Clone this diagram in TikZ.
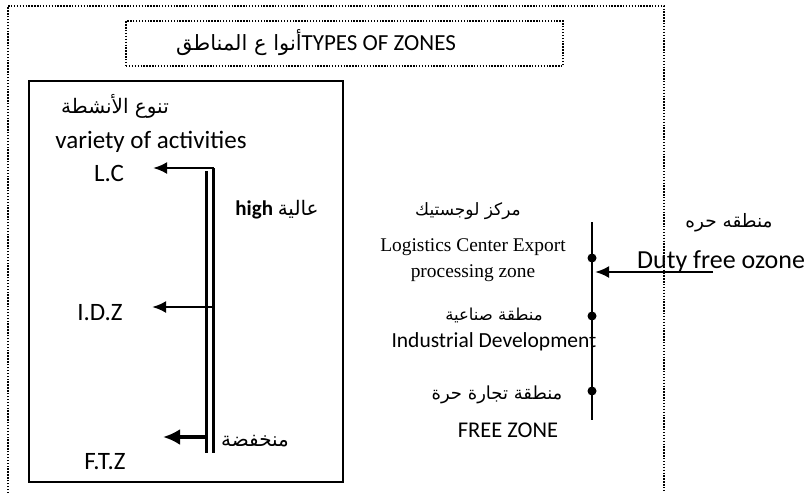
\documentclass[tikz,border=0pt]{standalone}
\usepackage{fontspec}
\setmainfont{Carlito}
\newfontfamily\arabicfont[Script=Arabic]{DejaVu Sans}
\newfontfamily\timesfont{Liberation Serif}
\TeXXeTstate=1
\usetikzlibrary{arrows.meta}
\tikzset{
  lbl/.style={inner sep=0pt, anchor=center},
  artxt/.style={lbl, font=\arabicfont\fontsize{20}{24}\selectfont},
  arsmall/.style={lbl, font=\arabicfont\fontsize{17}{20}\selectfont},
  entxt/.style={lbl, font=\fontsize{25}{28}\selectfont},
  ensmall/.style={lbl, font=\fontsize{21.5}{25}\selectfont},
  tmtxt/.style={lbl, font=\timesfont\fontsize{19.4}{23}\selectfont},
  dotline/.style={line width=1.8pt, dash pattern=on 1.4pt off 1.5pt},
  boxline/.style={line width=2.8pt},
  arr/.style={line width=2.6pt, -{Latex[length=14pt,width=12pt]}},
  thickarr/.style={line width=4pt, -{Latex[length=17pt,width=16pt]}},
  dbl/.style={line width=2.4pt},
  dot/.style={circle, fill=black, inner sep=0pt, minimum size=9pt},
}
\begin{document}
\begin{tikzpicture}[x=1pt,y=-1pt]
\useasboundingbox (0,0) rectangle (812,493);
% outer frame
\coordinate (ofbl) at (8,493);
\coordinate (oftl) at (8,6);
\coordinate (oftr) at (664,6);
\coordinate (ofbr) at (664,493);
\draw[dotline] (ofbl) -- (oftl) -- (oftr) -- (ofbr);
% title
\node[dotline, draw, minimum width=437pt, minimum height=45pt, anchor=center] (titlebox) at (344.5,43.5) {};
\node[lbl] (title) at (316,43) {\arabicfont\fontsize{21}{24}\selectfont\beginR أنوا ع المناطق\endR\fontsize{23}{26}\selectfont\rmfamily TYPES OF ZONES};
% inner box
\node[boxline, draw, minimum width=314pt, minimum height=401pt, anchor=center, inner sep=0pt] (innerbox) at (186,281.5) {};
\node[artxt] (varar) at (115,106) {\beginR تنوع الأنشطة\endR};
\node[entxt] (varen) at (151,142) {variety of activities};
\node[entxt] (lc) at (109,173) {L.C};
\node[entxt] (idz) at (100,313) {I.D.Z};
\node[entxt] (ftz) at (105,462) {F.T.Z};
\node[lbl, font=\bfseries\fontsize{21}{24}\selectfont] (high) at (277,210) {high \arabicfont\mdseries\fontsize{20}{24}\selectfont\beginR عالية\endR};
\node[artxt] (low) at (255,441) {\beginR منخفضة\endR};
% double line
\coordinate (dlt) at (206.5,171);
\coordinate (dlb) at (206.5,453);
\coordinate (drt) at (213.5,168);
\coordinate (drb) at (213.5,453);
\draw[dbl] (dlt) -- (dlb);
\draw[dbl] (drt) -- (drb);
% arrows
\coordinate (lctip) at (153,168);
\coordinate (idztip) at (152,307);
\coordinate (ftztip) at (163,437);
\coordinate (idzfrom) at (213.5,307);
\coordinate (ftzfrom) at (206.5,437);
\draw[arr] (drt) -- (lctip);
\draw[arr] (idzfrom) -- (idztip);
\draw[thickarr] (ftzfrom) -- (ftztip);
% right part
\node[arsmall] (lcar) at (468,211) {\beginR مركز لوجستيك\endR};
\node[tmtxt] (lcen1) at (473,247) {Logistics Center Export};
\node[tmtxt] (lcen2) at (473,273) {processing zone};
\node[arsmall, font=\arabicfont\fontsize{16.5}{20}\selectfont] (idar) at (494,315) {\beginR منطقة صناعية\endR};
\node[ensmall] (iden) at (494,342) {Industrial Development};
\node[arsmall, font=\arabicfont\fontsize{18}{20}\selectfont] (fzar) at (497,395) {\beginR منطقة تجارة حرة\endR};
\node[ensmall, font=\fontsize{22.5}{26}\selectfont] (fzen) at (508,430) {FREE ZONE};
\coordinate (vtop) at (592,222);
\coordinate (vbot) at (592,420);
\draw[line width=2.8pt] (vtop) -- (vbot);
\node[dot] (d1) at (592,258) {};
\node[dot] (d2) at (592,316) {};
\node[dot] (d3) at (592,391) {};
\node[arsmall, font=\arabicfont\fontsize{18.5}{22}\selectfont] (dfar) at (729,223) {\beginR منطقه حره\endR};
\node[lbl, font=\fontsize{26}{30}\selectfont, anchor=west] (dfen) at (637,262) {Duty free ozone};
\coordinate (dftail) at (713,272);
\coordinate (dftip) at (595,272);
\draw[arr] (dftail) -- (dftip);
\end{tikzpicture}
\end{document}
